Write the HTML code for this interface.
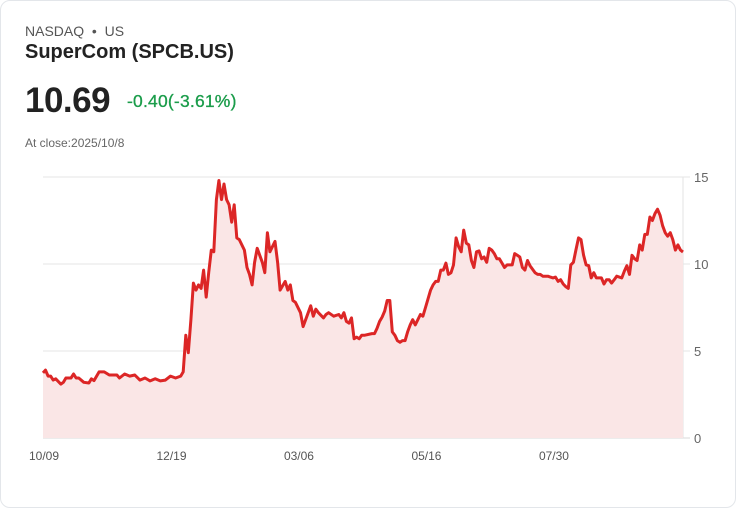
<!DOCTYPE html>
<html><head><meta charset="utf-8"><style>
body{margin:0;width:736px;height:508px;background:#fff;font-family:"Liberation Sans",sans-serif;overflow:hidden}
.card{position:absolute;left:0;top:0;width:734px;height:506px;border:1px solid #e3e6ea;border-radius:10px}
.t{position:absolute;white-space:nowrap}
</style></head><body>
<div class="card"></div>
<div class="t" style="left:25px;top:23px;font-size:14px;color:#555">NASDAQ &nbsp;•&nbsp; US</div>
<div class="t" style="left:25px;top:41px;font-size:20px;font-weight:bold;color:#222">SuperCom (SPCB.US)</div>
<div class="t" style="left:25px;top:81px;font-size:35px;font-weight:bold;color:#222;letter-spacing:-0.5px">10.69</div>
<div class="t" style="left:127px;top:91px;font-size:17.5px;color:#1a9c4a;letter-spacing:0.2px;-webkit-text-stroke:0.3px #1a9c4a">-0.40(-3.61%)</div>
<div class="t" style="left:25px;top:136px;font-size:12px;color:#666">At close:2025/10/8</div>
<svg id="chart" width="736" height="508" style="position:absolute;left:0;top:0"></svg>
<script>
const days=[0,1,2,3,4,5,7,8,9,11,12,13,14,16,18,19,20,22,24,26,29,30,32,34,36,38,40,42,44,46,48,50,52,54,55,56,57,58,59,60,61,62,63,64,65,66,67,68,69,70,71,72,73,74,75,76,77,79,80,81,82,83,84,86,87,88,89,91,92,93,95,96,97,98,99,101,102,104,105,106,107,108,110,111,112,114,116,117,118,119,120,121,122,123,124,125,126,129,130,131,132,133,134,135,136,137,138,139,140,141,142,143,144,145,146,148,149,150,152,153,154,155,156,157,158,159,160,161,162,163,164,165,166,167,168,169,170,171,172,173,174,175,176,177,178,179,180,181,182,184,185,186,187,188,189,190,191,193,194,195,196,198,199,200,201,202,203,204,205,206,207,208,209,210,211,212,213,214,215,216,217,218,219,220,221,222,223,224,225,227,228,229,230,231,232,233,234,235,236,237,238,239,240,241,242,243,244,245,246,247,248,249,250,251];
const closes=[3.74,3.9,3.56,3.56,3.33,3.4,3.1,3.2,3.45,3.45,3.68,3.45,3.45,3.2,3.16,3.4,3.3,3.8,3.8,3.62,3.62,3.45,3.68,3.56,3.62,3.33,3.45,3.28,3.4,3.28,3.33,3.56,3.45,3.56,3.8,5.9,4.9,6.8,8.9,8.5,8.8,8.6,9.65,8.1,9.5,10.8,10.7,13.7,14.8,13.7,14.6,13.7,13.4,12.4,13.4,11.5,11.4,10.8,9.8,9.4,8.8,10.1,10.9,10.1,9.5,11.8,10.7,11.3,10.1,8.5,9.0,8.5,8.8,7.9,7.8,7.2,6.4,7.2,7.6,7.0,7.4,7.2,6.9,7.1,7.2,7.0,7.1,6.9,7.2,6.7,6.6,6.9,5.7,5.8,5.7,5.9,5.9,6.0,6.0,6.3,6.7,6.95,7.3,7.9,7.9,6.1,5.9,5.6,5.5,5.6,5.6,6.1,6.5,6.8,6.5,7.1,7.0,7.5,8.5,8.8,9.0,9.0,9.65,9.65,10.05,9.4,9.5,9.95,11.5,11.0,10.7,11.95,11.2,11.1,10.2,9.8,10.7,10.75,10.3,10.4,10.1,10.9,10.8,10.6,10.3,10.3,10.05,9.8,9.95,9.95,10.6,10.5,10.4,9.8,9.65,10.2,9.9,9.5,9.4,9.4,9.3,9.3,9.25,9.2,9.25,9.0,9.1,8.85,8.7,8.6,9.95,10.1,10.8,11.5,11.4,10.5,9.95,9.9,9.2,9.5,9.2,9.2,9.2,8.85,9.1,9.1,8.9,9.1,9.3,9.2,9.6,9.9,9.4,10.5,10.3,10.2,11.1,10.8,11.7,11.7,12.7,12.5,12.9,13.15,12.8,12.2,11.8,11.6,11.8,11.4,10.8,11.1,10.8,10.69];
const yTicks=[0,5,10,15];
const xLabels=["10/09","12/19","03/06","05/16","07/30"];
const xLabelDays=[0,50,100,150,200];
const svg=document.getElementById('chart');
const NS='http://www.w3.org/2000/svg';
const L=43,R=683,T=177,B=438,maxDay=251,maxY=15;
const xs=d=>L+(R-L)*d/maxDay;
const ys=v=>B-(B-T)*v/maxY;
function mk(tag,attrs){const e=document.createElementNS(NS,tag);for(const k in attrs)e.setAttribute(k,attrs[k]);svg.appendChild(e);return e;}
yTicks.forEach(v=>{
  const g=mk('line',{x1:L,x2:R+7,y1:ys(v),y2:ys(v),stroke:v===0?'#d8d8d8':'#e6e6e6','stroke-width':1});
  
  
  const t=mk('text',{x:694,y:ys(v)+5,'font-size':13,fill:'#666','font-family':'Liberation Sans, sans-serif'});
  t.textContent=v;
  
  
});
const ax=mk('line',{x1:R,x2:R,y1:T,y2:B,stroke:'#e3e3e3','stroke-width':1});


xLabels.forEach((lab,i)=>{
  const t=mk('text',{x:xs(xLabelDays[i])+1,y:460,'font-size':12,fill:'#555','text-anchor':'middle','font-family':'Liberation Sans, sans-serif'});
  t.textContent=lab;
  
  
});
let d='';
days.forEach((dy,i)=>{d+=(i?'L':'M')+xs(dy).toFixed(1)+','+ys(closes[i]).toFixed(1);});
const area=mk('path',{d:d+'L'+xs(days[days.length-1])+','+B+'L'+xs(days[0])+','+B+'Z',fill:'#fae6e6'});


const line=mk('path',{d:d,fill:'none',stroke:'#dc2626','stroke-width':3,'stroke-linejoin':'round'});


</script>
</body></html>
